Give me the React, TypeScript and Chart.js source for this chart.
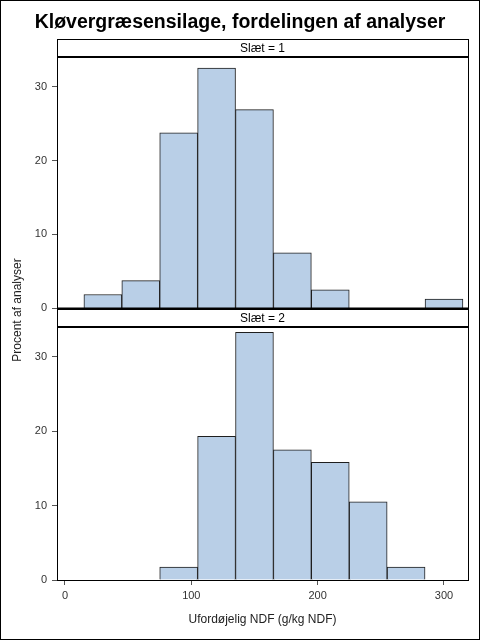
import React, { useEffect, useRef } from 'react';
import { Chart, registerables } from 'chart.js';

Chart.register(...registerables);

// ---- data ----
const binCenters = [30, 60, 90, 120, 150, 180, 210, 240, 270, 300];
const slaet1Percent = [1.875, 3.75, 23.75, 32.5, 26.875, 7.5, 2.5, 0, 0, 1.25];
const slaet2Percent = [0, 0, 1.75, 19.3, 33.3, 17.5, 15.8, 10.5, 1.75, 0];
const yTickValues = [0, 10, 20, 30];
const xTickValues = [0, 100, 200, 300];
const panelLabels = ['Slæt = 1', 'Slæt = 2'];
const titleText = 'Kløvergræsensilage, fordelingen af analyser';
const xTitleText = 'Ufordøjelig NDF (g/kg NDF)';
const yTitleText = 'Procent af analyser';

const FONT = 'Arial, "Liberation Sans", sans-serif';
const BAR_FILL = '#B9CFE7';
const BAR_EDGE = '#1e1e1e';
const STRIP_H = 18;

const stripPlugin = {
  id: 'panelStrip',
  afterDraw(chart: any, _args: any, opts: any) {
    const { ctx, chartArea: a } = chart;
    const top = a.top - STRIP_H;
    ctx.save();
    ctx.fillStyle = '#fff';
    ctx.fillRect(a.left, top, a.right - a.left, STRIP_H);
    ctx.strokeStyle = '#000';
    // top line of strip
    ctx.lineWidth = opts.topWidth || 1;
    ctx.beginPath();
    ctx.moveTo(a.left, top + (opts.topWidth === 2 ? 0 : 0.5));
    ctx.lineTo(a.right + 1, top + (opts.topWidth === 2 ? 0 : 0.5));
    ctx.stroke();
    // bottom (thick) line of strip
    ctx.lineWidth = 2;
    ctx.beginPath();
    ctx.moveTo(a.left, a.top);
    ctx.lineTo(a.right + 1, a.top);
    ctx.stroke();
    // side lines
    ctx.lineWidth = 1;
    ctx.beginPath();
    ctx.moveTo(Math.round(a.left) + 0.5, top);
    ctx.lineTo(Math.round(a.left) + 0.5, a.bottom);
    ctx.moveTo(Math.round(a.right) + 0.5, top);
    ctx.lineTo(Math.round(a.right) + 0.5, a.bottom);
    ctx.stroke();
    if (opts.bottomLine) {
      ctx.lineWidth = 2;
      ctx.beginPath();
      ctx.moveTo(a.left, a.bottom);
      ctx.lineTo(a.right + 1, a.bottom);
      ctx.stroke();
    }
    ctx.fillStyle = '#000';
    ctx.font = `12px ${FONT}`;
    ctx.textAlign = 'center';
    ctx.textBaseline = 'middle';
    ctx.fillText(opts.label, (a.left + a.right) / 2, top + STRIP_H / 2 + 0.5);
    ctx.restore();
  },
};

const pagePlugin = {
  id: 'pageDecor',
  afterDraw(chart: any) {
    const { ctx } = chart;
    ctx.save();
    ctx.fillStyle = '#000';
    ctx.font = `bold 19.5px ${FONT}`;
    ctx.textAlign = 'center';
    ctx.textBaseline = 'alphabetic';
    ctx.fillText(titleText, 240, 28);
    ctx.font = `12px ${FONT}`;
    ctx.fillStyle = '#222';
    ctx.translate(18, 310);
    ctx.rotate(-Math.PI / 2);
    ctx.textBaseline = 'middle';
    ctx.fillText(yTitleText, 0, 0);
    ctx.setTransform(1, 0, 0, 1, 0, 0);
    ctx.strokeStyle = '#000';
    ctx.lineWidth = 1;
    ctx.strokeRect(0.5, 0.5, 479, 639);
    ctx.restore();
  },
};

function yScale() {
  return {
    type: 'linear',
    min: 0,
    max: 34,
    afterBuildTicks: (s: any) => {
      s.ticks = yTickValues.map((v) => ({ value: v }));
    },
    afterFit: (s: any) => {
      s.width = 57;
    },
    grid: { drawOnChartArea: false, drawTicks: true, tickLength: 5, color: '#555' },
    border: { display: true, color: '#000', width: 1 },
    ticks: { padding: 5, color: '#333', font: { family: FONT, size: 11 } },
  };
}

function xScale(show: boolean) {
  const base: any = {
    type: 'linear',
    min: -6.3,
    max: 319,
    offset: false,
    display: show,
    afterBuildTicks: (s: any) => {
      s.ticks = xTickValues.map((v) => ({ value: v }));
    },
    grid: { drawOnChartArea: false, drawTicks: true, tickLength: 5, color: '#555', offset: false },
    border: { display: true, color: '#000', width: 1 },
    ticks: { padding: 4, color: '#333', maxRotation: 0, font: { family: FONT, size: 11 } },
    title: {
      display: true,
      text: xTitleText,
      color: '#222',
      font: { family: FONT, size: 12 },
      padding: { top: 0, bottom: 13 },
    },
  };
  if (show) {
    base.afterFit = (s: any) => {
      s.height = 60;
    };
  }
  return base;
}

function makeConfig(values: number[], panel: number): any {
  const isTop = panel === 0;
  return {
    type: 'bar',
    data: {
      datasets: [
        {
          data: binCenters.map((x, i) => ({ x, y: values[i] })),
          backgroundColor: BAR_FILL,
          borderColor: BAR_EDGE,
          borderWidth: 1,
          barPercentage: 1,
          categoryPercentage: 1,
        },
      ],
    },
    options: {
      animation: false,
      responsive: false,
      events: [],
      layout: {
        padding: isTop
          ? { left: 0, right: 12, top: 57, bottom: 11 }
          : { left: 0, right: 12, top: 327, bottom: 0 },
      },
      plugins: {
        legend: { display: false },
        tooltip: { enabled: false },
        panelStrip: { label: panelLabels[panel], topWidth: isTop ? 1 : 2, bottomLine: isTop },
      },
      scales: {
        x: xScale(!isTop),
        y: yScale(),
      },
    },
    plugins: isTop ? [stripPlugin] : [stripPlugin, pagePlugin],
  };
}

export default function App() {
  const ref1 = useRef<HTMLCanvasElement>(null);
  const ref2 = useRef<HTMLCanvasElement>(null);
  useEffect(() => {
    const c1 = new Chart(ref1.current as HTMLCanvasElement, makeConfig(slaet1Percent, 0));
    const c2 = new Chart(ref2.current as HTMLCanvasElement, makeConfig(slaet2Percent, 1));
    return () => {
      c1.destroy();
      c2.destroy();
    };
  }, []);
  return (
    <div style={{ position: 'fixed', left: 0, top: 0, width: 480, height: 640, background: '#fff' }}>
      <canvas
        ref={ref1}
        width={480}
        height={320}
        style={{ position: 'absolute', left: 0, top: 0, width: 480, height: 320 }}
      />
      <canvas
        ref={ref2}
        width={480}
        height={640}
        style={{ position: 'absolute', left: 0, top: 0, width: 480, height: 640 }}
      />
    </div>
  );
}
